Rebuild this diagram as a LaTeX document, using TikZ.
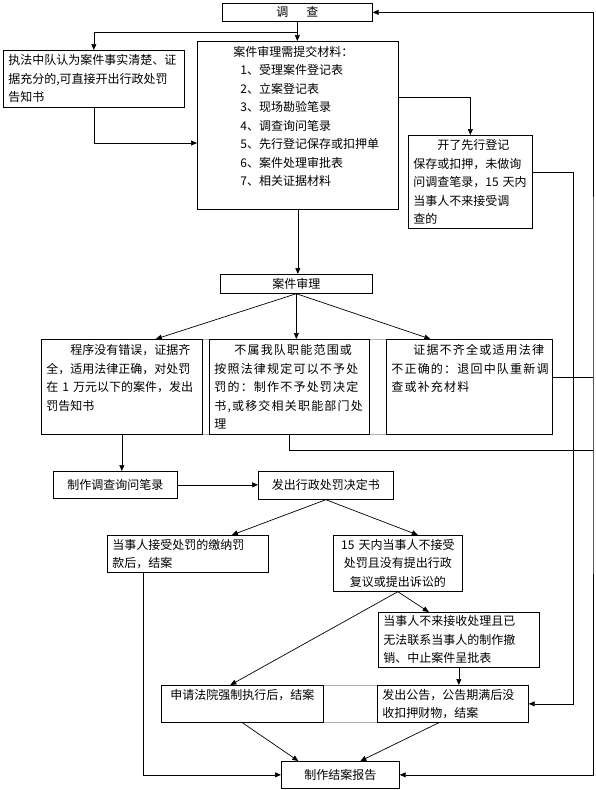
\documentclass[tikz,border=0pt]{standalone}
\usepackage{fontspec}
\usepackage{tikz}
\usetikzlibrary{arrows.meta,calc}
\newfontfamily\cjk{Noto Sans CJK SC}
\newfontfamily\cjkwide[LetterSpace=10]{Noto Sans CJK SC}
\newcommand{\boxsize}{\fontsize{12pt}{18.5pt}\selectfont}

\begin{document}
\begin{tikzpicture}[x=1pt, y=-1pt, line width=0.7pt, >={Triangle[length=6pt,width=5pt]},
  box/.style={rectangle, draw, anchor=north west, inner xsep=5pt, inner ysep=0pt, align=left, font=\cjk\boxsize},
  wide/.style={font=\cjkwide\boxsize}]
\useasboundingbox (0,0) rectangle (596,790);

% Investigation level
\node[box, align=center, text width=140pt, minimum height=18pt] (dc) at (222,3) {调\hspace{1.5em}查};
\node[box, text width=171pt, minimum height=57pt] (zfzd) at (3,50) {执法中队认为案件事实清楚、证\\据充分的,可直接开出行政处罚\\告知书};
\node[box, text width=191pt, minimum height=168pt] (clzl) at (197,41) {\hspace{31pt}案件审理需提交材料：\\\hspace{38pt}1、受理案件登记表\\\hspace{38pt}2、立案登记表\\\hspace{38pt}3、现场勘验笔录\\\hspace{38pt}4、调查询问笔录\\\hspace{38pt}5、先行登记保存或扣押单\\\hspace{38pt}6、案件处理审批表\\\hspace{38pt}7、相关证据材料\\\mbox{}};
\node[box, text width=114pt, minimum height=93pt] (xxdj) at (408,135) {\hspace{24pt}开了先行登记\\保存或扣押，未做询\\问调查笔录，15~天内\\当事人不来接受调\\查的};

% Review level
\node[box, align=center, text width=142pt, minimum height=19pt] (ajsl) at (220,274) {案件审理};
\node[box, text width=151pt, minimum height=95pt] (cfgz) at (41,339) {\hspace{24pt}程序没有错误，证据齐\\全，适用法律正确，对处罚\\在~1~万元以下的案件，发出\\罚告知书\\\mbox{}};
\node[box, wide, text width=150pt, minimum height=95pt] (bycf) at (209,339) {\hspace{20pt}不属我队职能范围或\\按照法律规定可以不予处\\罚的：制作不予处罚决定\\书,或移交相关职能部门处\\理};
\node[box, wide, text width=156pt, minimum height=95pt] (thbc) at (386,339) {\hspace{22pt}证据不齐全或适用法律\\不正确的：退回中队重新调\\查或补充材料\\\mbox{}\\\mbox{}};

% Penalty level
\node[box, align=center, text width=114pt, minimum height=27pt] (zzbl) at (53,471) {制作调查询问笔录};
\node[box, align=center, text width=125pt, minimum height=28pt] (cfjd) at (258,471) {发出行政处罚决定书};
\node[box, text width=151pt, minimum height=37pt] (jnfk) at (107,535) {当事人接受处罚的缴纳罚\\款后，结案};
\node[box, align=center, text width=119pt, minimum height=56pt] (bjs) at (333,535) {15~天内当事人不接受\\处罚且没有提出行政\\复议或提出诉讼的};
\node[box, text width=151pt, minimum height=55pt] (cxzz) at (378,612) {当事人不来接收处理且已\\无法联系当事人的制作撤\\销、中止案件呈批表};
\node[box, align=center, text width=152pt, minimum height=37pt] (qzzx) at (161,685) {申请法院强制执行后，结案\\\mbox{}};
\node[box, text width=141pt, minimum height=37pt] (ggms) at (377,685) {发出公告，公告期满后没\\收扣押财物，结案};
\node[box, align=center, text width=108pt, minimum height=27pt] (jabg) at (281,761) {制作结案报告};

% Rail points
\coordinate (fork) at ($(dc.south)+(0,11)$);
\coordinate (rA) at (593,377);
\coordinate (rB) at (593,450);
\coordinate (rC) at (573,172);

% Table borders
\draw[gray!60] (cfgz.north east) -- (bycf.north west);
\draw[gray!60] (cfgz.south east) -- (bycf.south west);
\draw[gray!60] (bycf.north east) -- (thbc.north west);
\draw[gray!60] (bycf.south east) -- (thbc.south west);
\draw[gray!60] (qzzx.north east) -- (ggms.north west);
\draw[gray!60] (qzzx.south east) -- (ggms.south west);

% Connections
\draw[->] (dc.south) -- (dc.south |- clzl.north);
\draw[->] (fork) -| (zfzd.north);
\draw[->] (zfzd.south) |- ($(clzl.north west)+(0,102)$);
\draw[->] ($(clzl.north east)+(0,56)$) -| (xxdj.north);
\draw[->] (xxdj.east |- rC) -- (rC) |- (ggms.east);
\draw[->] (clzl.south) -- (clzl.south |- ajsl.north);

\draw[->] (ajsl.south) -- ($(cfgz.north)+(34,0)$);
\draw[->] (ajsl.south) -- (ajsl.south |- bycf.north);
\draw[->] (ajsl.south) -- ($(thbc.north)+(-39,0)$);

\draw[<->] (dc.east) -| (rA) |- (jabg.east);
\draw (thbc.east |- rA) -- (rA);
\draw (bycf.south) |- (rB);

\draw[->] (cfgz.south) -- (cfgz.south |- zzbl.north);
\draw[->] (zzbl.east) -- (zzbl.east -| cfjd.west);
\draw[->] (cfjd.south) -- ($(jnfk.north)+(44,0)$);
\draw[->] (cfjd.south) -- ($(bjs.north)+(20,0)$);
\draw[->] ($(jnfk.south west)+(36,0)$) |- (jabg.west);
\draw[->] (bjs.south) -- ($(qzzx.north)+(-12,0)$);
\draw[->] (bjs.south) -- ($(cxzz.north)+(-30,0)$);
\draw[->] (cxzz.south) -- (cxzz.south |- ggms.north);
\draw[->] (qzzx.south) -- ($(jabg.north)+(-42,0)$);
\draw[->] ($(ggms.south)+(-14,0)$) -- ($(jabg.north)+(20,0)$);
\end{tikzpicture}
\end{document}
